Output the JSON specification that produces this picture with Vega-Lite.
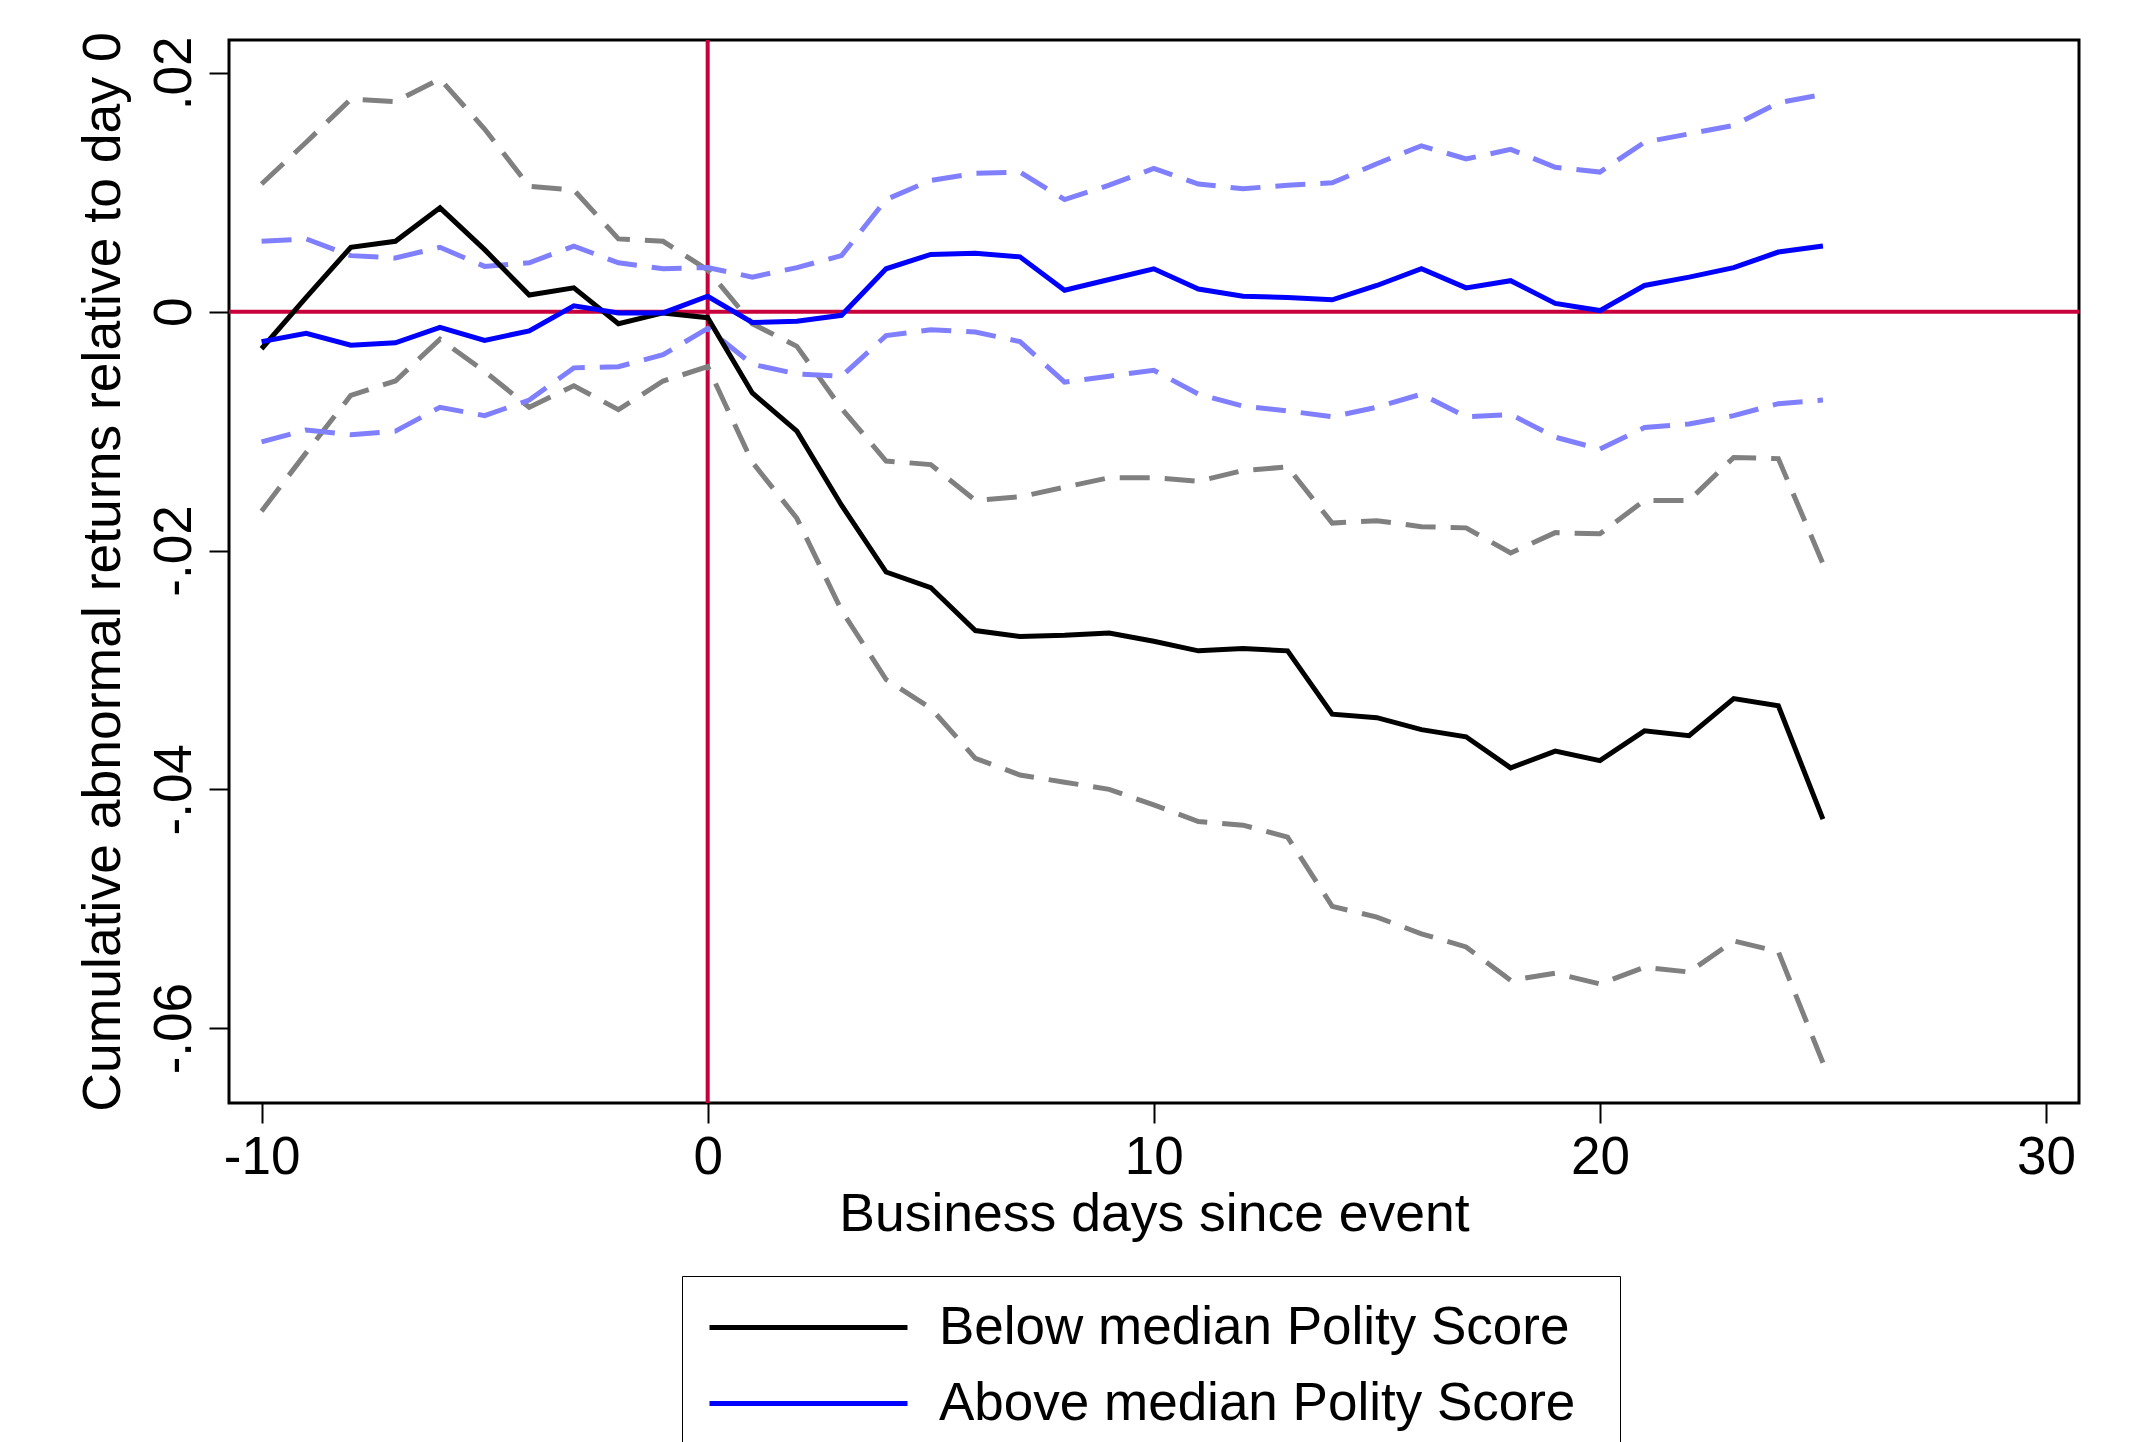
{
"$schema":"https://vega.github.io/schema/vega-lite/v6.json",
"width":1850,"height":1063,
"autosize":{"type":"none"},
"padding":{"left":229,"top":40,"right":61,"bottom":339},
"background":"white",
"config":{
 "view":{"stroke":"black","strokeWidth":3},
 "font":"Liberation Sans",
 "axis":{"grid":false,"domain":false,"tickColor":"black","tickWidth":2,"tickSize":20,"labelColor":"black","titleColor":"black","labelFontSize":53,"titleFontSize":53.5,"titleFontWeight":"normal","labelFont":"Liberation Sans","titleFont":"Liberation Sans"},
 "legend":{"labelFont":"Liberation Sans","titleFont":"Liberation Sans"}
},
"datasets":{"cars":[
{"day":-10,"group":"Below median Polity Score","band":"mean","car":-0.0031},{"day":-9,"group":"Below median Polity Score","band":"mean","car":0.0012},{"day":-8,"group":"Below median Polity Score","band":"mean","car":0.0054},{"day":-7,"group":"Below median Polity Score","band":"mean","car":0.0059},{"day":-6,"group":"Below median Polity Score","band":"mean","car":0.0087},{"day":-5,"group":"Below median Polity Score","band":"mean","car":0.0052},{"day":-4,"group":"Below median Polity Score","band":"mean","car":0.0014},{"day":-3,"group":"Below median Polity Score","band":"mean","car":0.0020},{"day":-2,"group":"Below median Polity Score","band":"mean","car":-0.0010},{"day":-1,"group":"Below median Polity Score","band":"mean","car":-0.0001},{"day":0,"group":"Below median Polity Score","band":"mean","car":-0.0005},{"day":1,"group":"Below median Polity Score","band":"mean","car":-0.0068},{"day":2,"group":"Below median Polity Score","band":"mean","car":-0.0100},{"day":3,"group":"Below median Polity Score","band":"mean","car":-0.0162},{"day":4,"group":"Below median Polity Score","band":"mean","car":-0.0218},{"day":5,"group":"Below median Polity Score","band":"mean","car":-0.0231},{"day":6,"group":"Below median Polity Score","band":"mean","car":-0.0267},{"day":7,"group":"Below median Polity Score","band":"mean","car":-0.0272},{"day":8,"group":"Below median Polity Score","band":"mean","car":-0.0271},{"day":9,"group":"Below median Polity Score","band":"mean","car":-0.0269},{"day":10,"group":"Below median Polity Score","band":"mean","car":-0.0276},{"day":11,"group":"Below median Polity Score","band":"mean","car":-0.0284},{"day":12,"group":"Below median Polity Score","band":"mean","car":-0.0282},{"day":13,"group":"Below median Polity Score","band":"mean","car":-0.0284},{"day":14,"group":"Below median Polity Score","band":"mean","car":-0.0337},{"day":15,"group":"Below median Polity Score","band":"mean","car":-0.0340},{"day":16,"group":"Below median Polity Score","band":"mean","car":-0.0350},{"day":17,"group":"Below median Polity Score","band":"mean","car":-0.0356},{"day":18,"group":"Below median Polity Score","band":"mean","car":-0.0382},{"day":19,"group":"Below median Polity Score","band":"mean","car":-0.0368},{"day":20,"group":"Below median Polity Score","band":"mean","car":-0.0376},{"day":21,"group":"Below median Polity Score","band":"mean","car":-0.0351},{"day":22,"group":"Below median Polity Score","band":"mean","car":-0.0355},{"day":23,"group":"Below median Polity Score","band":"mean","car":-0.0324},{"day":24,"group":"Below median Polity Score","band":"mean","car":-0.0330},{"day":25,"group":"Below median Polity Score","band":"mean","car":-0.0425},
{"day":-10,"group":"Below median Polity Score","band":"lo","car":-0.0167},{"day":-9,"group":"Below median Polity Score","band":"lo","car":-0.0118},{"day":-8,"group":"Below median Polity Score","band":"lo","car":-0.0070},{"day":-7,"group":"Below median Polity Score","band":"lo","car":-0.0058},{"day":-6,"group":"Below median Polity Score","band":"lo","car":-0.0023},{"day":-5,"group":"Below median Polity Score","band":"lo","car":-0.0050},{"day":-4,"group":"Below median Polity Score","band":"lo","car":-0.0080},{"day":-3,"group":"Below median Polity Score","band":"lo","car":-0.0062},{"day":-2,"group":"Below median Polity Score","band":"lo","car":-0.0082},{"day":-1,"group":"Below median Polity Score","band":"lo","car":-0.0058},{"day":0,"group":"Below median Polity Score","band":"lo","car":-0.0046},{"day":1,"group":"Below median Polity Score","band":"lo","car":-0.0126},{"day":2,"group":"Below median Polity Score","band":"lo","car":-0.0173},{"day":3,"group":"Below median Polity Score","band":"lo","car":-0.0250},{"day":4,"group":"Below median Polity Score","band":"lo","car":-0.0308},{"day":5,"group":"Below median Polity Score","band":"lo","car":-0.0332},{"day":6,"group":"Below median Polity Score","band":"lo","car":-0.0374},{"day":7,"group":"Below median Polity Score","band":"lo","car":-0.0388},{"day":8,"group":"Below median Polity Score","band":"lo","car":-0.0394},{"day":9,"group":"Below median Polity Score","band":"lo","car":-0.0400},{"day":10,"group":"Below median Polity Score","band":"lo","car":-0.0413},{"day":11,"group":"Below median Polity Score","band":"lo","car":-0.0427},{"day":12,"group":"Below median Polity Score","band":"lo","car":-0.0430},{"day":13,"group":"Below median Polity Score","band":"lo","car":-0.0440},{"day":14,"group":"Below median Polity Score","band":"lo","car":-0.0498},{"day":15,"group":"Below median Polity Score","band":"lo","car":-0.0507},{"day":16,"group":"Below median Polity Score","band":"lo","car":-0.0521},{"day":17,"group":"Below median Polity Score","band":"lo","car":-0.0532},{"day":18,"group":"Below median Polity Score","band":"lo","car":-0.0560},{"day":19,"group":"Below median Polity Score","band":"lo","car":-0.0554},{"day":20,"group":"Below median Polity Score","band":"lo","car":-0.0563},{"day":21,"group":"Below median Polity Score","band":"lo","car":-0.0549},{"day":22,"group":"Below median Polity Score","band":"lo","car":-0.0553},{"day":23,"group":"Below median Polity Score","band":"lo","car":-0.0527},{"day":24,"group":"Below median Polity Score","band":"lo","car":-0.0536},{"day":25,"group":"Below median Polity Score","band":"lo","car":-0.0629},
{"day":-10,"group":"Below median Polity Score","band":"hi","car":0.0107},{"day":-9,"group":"Below median Polity Score","band":"hi","car":0.0142},{"day":-8,"group":"Below median Polity Score","band":"hi","car":0.0178},{"day":-7,"group":"Below median Polity Score","band":"hi","car":0.0176},{"day":-6,"group":"Below median Polity Score","band":"hi","car":0.0195},{"day":-5,"group":"Below median Polity Score","band":"hi","car":0.0153},{"day":-4,"group":"Below median Polity Score","band":"hi","car":0.0105},{"day":-3,"group":"Below median Polity Score","band":"hi","car":0.0102},{"day":-2,"group":"Below median Polity Score","band":"hi","car":0.0061},{"day":-1,"group":"Below median Polity Score","band":"hi","car":0.0059},{"day":0,"group":"Below median Polity Score","band":"hi","car":0.0035},{"day":1,"group":"Below median Polity Score","band":"hi","car":-0.0010},{"day":2,"group":"Below median Polity Score","band":"hi","car":-0.0029},{"day":3,"group":"Below median Polity Score","band":"hi","car":-0.0081},{"day":4,"group":"Below median Polity Score","band":"hi","car":-0.0125},{"day":5,"group":"Below median Polity Score","band":"hi","car":-0.0128},{"day":6,"group":"Below median Polity Score","band":"hi","car":-0.0158},{"day":7,"group":"Below median Polity Score","band":"hi","car":-0.0155},{"day":8,"group":"Below median Polity Score","band":"hi","car":-0.0147},{"day":9,"group":"Below median Polity Score","band":"hi","car":-0.0139},{"day":10,"group":"Below median Polity Score","band":"hi","car":-0.0139},{"day":11,"group":"Below median Polity Score","band":"hi","car":-0.0142},{"day":12,"group":"Below median Polity Score","band":"hi","car":-0.0133},{"day":13,"group":"Below median Polity Score","band":"hi","car":-0.0130},{"day":14,"group":"Below median Polity Score","band":"hi","car":-0.0177},{"day":15,"group":"Below median Polity Score","band":"hi","car":-0.0175},{"day":16,"group":"Below median Polity Score","band":"hi","car":-0.0180},{"day":17,"group":"Below median Polity Score","band":"hi","car":-0.0181},{"day":18,"group":"Below median Polity Score","band":"hi","car":-0.0202},{"day":19,"group":"Below median Polity Score","band":"hi","car":-0.0185},{"day":20,"group":"Below median Polity Score","band":"hi","car":-0.0186},{"day":21,"group":"Below median Polity Score","band":"hi","car":-0.0158},{"day":22,"group":"Below median Polity Score","band":"hi","car":-0.0158},{"day":23,"group":"Below median Polity Score","band":"hi","car":-0.0122},{"day":24,"group":"Below median Polity Score","band":"hi","car":-0.0123},{"day":25,"group":"Below median Polity Score","band":"hi","car":-0.0211},
{"day":-10,"group":"Above median Polity Score","band":"mean","car":-0.0025},{"day":-9,"group":"Above median Polity Score","band":"mean","car":-0.0018},{"day":-8,"group":"Above median Polity Score","band":"mean","car":-0.0028},{"day":-7,"group":"Above median Polity Score","band":"mean","car":-0.0026},{"day":-6,"group":"Above median Polity Score","band":"mean","car":-0.0013},{"day":-5,"group":"Above median Polity Score","band":"mean","car":-0.0024},{"day":-4,"group":"Above median Polity Score","band":"mean","car":-0.0016},{"day":-3,"group":"Above median Polity Score","band":"mean","car":0.0005},{"day":-2,"group":"Above median Polity Score","band":"mean","car":-0.0001},{"day":-1,"group":"Above median Polity Score","band":"mean","car":-0.0001},{"day":0,"group":"Above median Polity Score","band":"mean","car":0.0013},{"day":1,"group":"Above median Polity Score","band":"mean","car":-0.0009},{"day":2,"group":"Above median Polity Score","band":"mean","car":-0.0008},{"day":3,"group":"Above median Polity Score","band":"mean","car":-0.0003},{"day":4,"group":"Above median Polity Score","band":"mean","car":0.0036},{"day":5,"group":"Above median Polity Score","band":"mean","car":0.0048},{"day":6,"group":"Above median Polity Score","band":"mean","car":0.0049},{"day":7,"group":"Above median Polity Score","band":"mean","car":0.0046},{"day":8,"group":"Above median Polity Score","band":"mean","car":0.0018},{"day":9,"group":"Above median Polity Score","band":"mean","car":0.0027},{"day":10,"group":"Above median Polity Score","band":"mean","car":0.0036},{"day":11,"group":"Above median Polity Score","band":"mean","car":0.0019},{"day":12,"group":"Above median Polity Score","band":"mean","car":0.0013},{"day":13,"group":"Above median Polity Score","band":"mean","car":0.0012},{"day":14,"group":"Above median Polity Score","band":"mean","car":0.0010},{"day":15,"group":"Above median Polity Score","band":"mean","car":0.0022},{"day":16,"group":"Above median Polity Score","band":"mean","car":0.0036},{"day":17,"group":"Above median Polity Score","band":"mean","car":0.0020},{"day":18,"group":"Above median Polity Score","band":"mean","car":0.0026},{"day":19,"group":"Above median Polity Score","band":"mean","car":0.0007},{"day":20,"group":"Above median Polity Score","band":"mean","car":0.0001},{"day":21,"group":"Above median Polity Score","band":"mean","car":0.0022},{"day":22,"group":"Above median Polity Score","band":"mean","car":0.0029},{"day":23,"group":"Above median Polity Score","band":"mean","car":0.0037},{"day":24,"group":"Above median Polity Score","band":"mean","car":0.0050},{"day":25,"group":"Above median Polity Score","band":"mean","car":0.0055},
{"day":-10,"group":"Above median Polity Score","band":"lo","car":-0.0109},{"day":-9,"group":"Above median Polity Score","band":"lo","car":-0.0099},{"day":-8,"group":"Above median Polity Score","band":"lo","car":-0.0103},{"day":-7,"group":"Above median Polity Score","band":"lo","car":-0.0100},{"day":-6,"group":"Above median Polity Score","band":"lo","car":-0.0080},{"day":-5,"group":"Above median Polity Score","band":"lo","car":-0.0087},{"day":-4,"group":"Above median Polity Score","band":"lo","car":-0.0074},{"day":-3,"group":"Above median Polity Score","band":"lo","car":-0.0047},{"day":-2,"group":"Above median Polity Score","band":"lo","car":-0.0046},{"day":-1,"group":"Above median Polity Score","band":"lo","car":-0.0036},{"day":0,"group":"Above median Polity Score","band":"lo","car":-0.0014},{"day":1,"group":"Above median Polity Score","band":"lo","car":-0.0044},{"day":2,"group":"Above median Polity Score","band":"lo","car":-0.0052},{"day":3,"group":"Above median Polity Score","band":"lo","car":-0.0054},{"day":4,"group":"Above median Polity Score","band":"lo","car":-0.0020},{"day":5,"group":"Above median Polity Score","band":"lo","car":-0.0015},{"day":6,"group":"Above median Polity Score","band":"lo","car":-0.0017},{"day":7,"group":"Above median Polity Score","band":"lo","car":-0.0025},{"day":8,"group":"Above median Polity Score","band":"lo","car":-0.0059},{"day":9,"group":"Above median Polity Score","band":"lo","car":-0.0054},{"day":10,"group":"Above median Polity Score","band":"lo","car":-0.0049},{"day":11,"group":"Above median Polity Score","band":"lo","car":-0.0069},{"day":12,"group":"Above median Polity Score","band":"lo","car":-0.0079},{"day":13,"group":"Above median Polity Score","band":"lo","car":-0.0083},{"day":14,"group":"Above median Polity Score","band":"lo","car":-0.0088},{"day":15,"group":"Above median Polity Score","band":"lo","car":-0.0080},{"day":16,"group":"Above median Polity Score","band":"lo","car":-0.0069},{"day":17,"group":"Above median Polity Score","band":"lo","car":-0.0088},{"day":18,"group":"Above median Polity Score","band":"lo","car":-0.0086},{"day":19,"group":"Above median Polity Score","band":"lo","car":-0.0105},{"day":20,"group":"Above median Polity Score","band":"lo","car":-0.0115},{"day":21,"group":"Above median Polity Score","band":"lo","car":-0.0097},{"day":22,"group":"Above median Polity Score","band":"lo","car":-0.0094},{"day":23,"group":"Above median Polity Score","band":"lo","car":-0.0087},{"day":24,"group":"Above median Polity Score","band":"lo","car":-0.0077},{"day":25,"group":"Above median Polity Score","band":"lo","car":-0.0074},
{"day":-10,"group":"Above median Polity Score","band":"hi","car":0.0059},{"day":-9,"group":"Above median Polity Score","band":"hi","car":0.0061},{"day":-8,"group":"Above median Polity Score","band":"hi","car":0.0047},{"day":-7,"group":"Above median Polity Score","band":"hi","car":0.0045},{"day":-6,"group":"Above median Polity Score","band":"hi","car":0.0054},{"day":-5,"group":"Above median Polity Score","band":"hi","car":0.0038},{"day":-4,"group":"Above median Polity Score","band":"hi","car":0.0041},{"day":-3,"group":"Above median Polity Score","band":"hi","car":0.0055},{"day":-2,"group":"Above median Polity Score","band":"hi","car":0.0041},{"day":-1,"group":"Above median Polity Score","band":"hi","car":0.0036},{"day":0,"group":"Above median Polity Score","band":"hi","car":0.0037},{"day":1,"group":"Above median Polity Score","band":"hi","car":0.0029},{"day":2,"group":"Above median Polity Score","band":"hi","car":0.0037},{"day":3,"group":"Above median Polity Score","band":"hi","car":0.0047},{"day":4,"group":"Above median Polity Score","band":"hi","car":0.0094},{"day":5,"group":"Above median Polity Score","band":"hi","car":0.0110},{"day":6,"group":"Above median Polity Score","band":"hi","car":0.0116},{"day":7,"group":"Above median Polity Score","band":"hi","car":0.0117},{"day":8,"group":"Above median Polity Score","band":"hi","car":0.0094},{"day":9,"group":"Above median Polity Score","band":"hi","car":0.0106},{"day":10,"group":"Above median Polity Score","band":"hi","car":0.0120},{"day":11,"group":"Above median Polity Score","band":"hi","car":0.0107},{"day":12,"group":"Above median Polity Score","band":"hi","car":0.0103},{"day":13,"group":"Above median Polity Score","band":"hi","car":0.0106},{"day":14,"group":"Above median Polity Score","band":"hi","car":0.0108},{"day":15,"group":"Above median Polity Score","band":"hi","car":0.0124},{"day":16,"group":"Above median Polity Score","band":"hi","car":0.0139},{"day":17,"group":"Above median Polity Score","band":"hi","car":0.0128},{"day":18,"group":"Above median Polity Score","band":"hi","car":0.0136},{"day":19,"group":"Above median Polity Score","band":"hi","car":0.0121},{"day":20,"group":"Above median Polity Score","band":"hi","car":0.0117},{"day":21,"group":"Above median Polity Score","band":"hi","car":0.0142},{"day":22,"group":"Above median Polity Score","band":"hi","car":0.0149},{"day":23,"group":"Above median Polity Score","band":"hi","car":0.0156},{"day":24,"group":"Above median Polity Score","band":"hi","car":0.0175},{"day":25,"group":"Above median Polity Score","band":"hi","car":0.0182}
]},
"data":{"name":"cars"},
"layer":[
{"data":{"values":[{}]},
 "mark":{"type":"rule","color":"#c8003c","strokeWidth":4},
 "encoding":{"y":{"datum":0,"type":"quantitative","scale":{"domain":[-0.06627,0.02276],"nice":false,"zero":false},"axis":{"values":[-0.06,-0.04,-0.02,0,0.02],"labelExpr":"datum.value < 0 ? '-' + replace(format(-datum.value, '.2f'), '0.', '.') : (datum.value > 0 ? replace(format(datum.value, '.2f'), '0.', '.') : '0')","title":"Cumulative abnormal returns relative to day 0","labelAngle":-90,"labelAlign":"center","labelBaseline":"alphabetic","labelPadding":19,"titlePadding":29,"titleBaseline":"alphabetic","labelOverlap":false,"labelFlush":false}}}},
{"data":{"values":[{}]},
 "mark":{"type":"rule","color":"#c8003c","strokeWidth":4},
 "encoding":{"x":{"datum":0,"type":"quantitative","scale":{"domain":[-10.73,30.74],"nice":false,"zero":false},"axis":{"values":[-10,0,10,20,30],"labelExpr":"datum.value < 0 ? '-' + format(-datum.value, 'd') : format(datum.value, 'd')","title":"Business days since event","labelPadding":8,"titlePadding":46,"titleBaseline":"alphabetic","labelFlush":false,"labelOverlap":false}}}},
{"transform":[{"filter":"datum.group == 'Below median Polity Score' && datum.band != 'mean'"}],
 "mark":{"type":"line","color":"#808080","strokeWidth":5,"strokeDash":[30,15]},
 "encoding":{
  "x":{"field":"day","type":"quantitative","scale":{"domain":[-10.73,30.74],"nice":false,"zero":false},"axis":{"values":[-10,0,10,20,30],"labelExpr":"datum.value < 0 ? '-' + format(-datum.value, 'd') : format(datum.value, 'd')","title":"Business days since event","labelPadding":8,"titlePadding":46,"titleBaseline":"alphabetic","labelFlush":false,"labelOverlap":false}},
  "y":{"field":"car","type":"quantitative","scale":{"domain":[-0.06627,0.02276],"nice":false,"zero":false},"axis":{"values":[-0.06,-0.04,-0.02,0,0.02],"labelExpr":"datum.value < 0 ? '-' + replace(format(-datum.value, '.2f'), '0.', '.') : (datum.value > 0 ? replace(format(datum.value, '.2f'), '0.', '.') : '0')","title":"Cumulative abnormal returns relative to day 0","labelAngle":-90,"labelAlign":"center","labelBaseline":"alphabetic","labelPadding":19,"titlePadding":29,"titleBaseline":"alphabetic","labelOverlap":false,"labelFlush":false}},
  "detail":{"field":"band","type":"nominal"},
  "order":{"field":"day","type":"quantitative"}}},
{"transform":[{"filter":"datum.group == 'Above median Polity Score' && datum.band != 'mean'"}],
 "mark":{"type":"line","color":"#8080ff","strokeWidth":5,"strokeDash":[30,15]},
 "encoding":{
  "x":{"field":"day","type":"quantitative","scale":{"domain":[-10.73,30.74],"nice":false,"zero":false},"axis":{"values":[-10,0,10,20,30],"labelExpr":"datum.value < 0 ? '-' + format(-datum.value, 'd') : format(datum.value, 'd')","title":"Business days since event","labelPadding":8,"titlePadding":46,"titleBaseline":"alphabetic","labelFlush":false,"labelOverlap":false}},
  "y":{"field":"car","type":"quantitative","scale":{"domain":[-0.06627,0.02276],"nice":false,"zero":false},"axis":{"values":[-0.06,-0.04,-0.02,0,0.02],"labelExpr":"datum.value < 0 ? '-' + replace(format(-datum.value, '.2f'), '0.', '.') : (datum.value > 0 ? replace(format(datum.value, '.2f'), '0.', '.') : '0')","title":"Cumulative abnormal returns relative to day 0","labelAngle":-90,"labelAlign":"center","labelBaseline":"alphabetic","labelPadding":19,"titlePadding":29,"titleBaseline":"alphabetic","labelOverlap":false,"labelFlush":false}},
  "detail":{"field":"band","type":"nominal"},
  "order":{"field":"day","type":"quantitative"}}},
{"transform":[{"filter":"datum.band == 'mean'"}],
 "mark":{"type":"line","strokeWidth":5},
 "encoding":{
  "x":{"field":"day","type":"quantitative","scale":{"domain":[-10.73,30.74],"nice":false,"zero":false},"axis":{"values":[-10,0,10,20,30],"labelExpr":"datum.value < 0 ? '-' + format(-datum.value, 'd') : format(datum.value, 'd')","title":"Business days since event","labelPadding":8,"titlePadding":46,"titleBaseline":"alphabetic","labelFlush":false,"labelOverlap":false}},
  "y":{"field":"car","type":"quantitative","scale":{"domain":[-0.06627,0.02276],"nice":false,"zero":false},"axis":{"values":[-0.06,-0.04,-0.02,0,0.02],"labelExpr":"datum.value < 0 ? '-' + replace(format(-datum.value, '.2f'), '0.', '.') : (datum.value > 0 ? replace(format(datum.value, '.2f'), '0.', '.') : '0')","title":"Cumulative abnormal returns relative to day 0","labelAngle":-90,"labelAlign":"center","labelBaseline":"alphabetic","labelPadding":19,"titlePadding":29,"titleBaseline":"alphabetic","labelOverlap":false,"labelFlush":false}},
  "color":{"field":"group","type":"nominal","scale":{"domain":["Below median Polity Score","Above median Polity Score"],"range":["#000000","#0000ff"]},
   "legend":{"orient":"none","legendX":453,"legendY":1236,"title":" ","titleOrient":"right","titleFontSize":1,"titlePadding":20,"direction":"vertical","symbolType":"stroke","symbolSize":39204,"symbolStrokeWidth":5,"labelFontSize":53,"labelColor":"black","labelOffset":29,"labelLimit":0,"padding":25,"rowPadding":22,"strokeColor":"black","fillColor":"white","clipHeight":53}},
  "order":{"field":"day","type":"quantitative"}}}
]
}
